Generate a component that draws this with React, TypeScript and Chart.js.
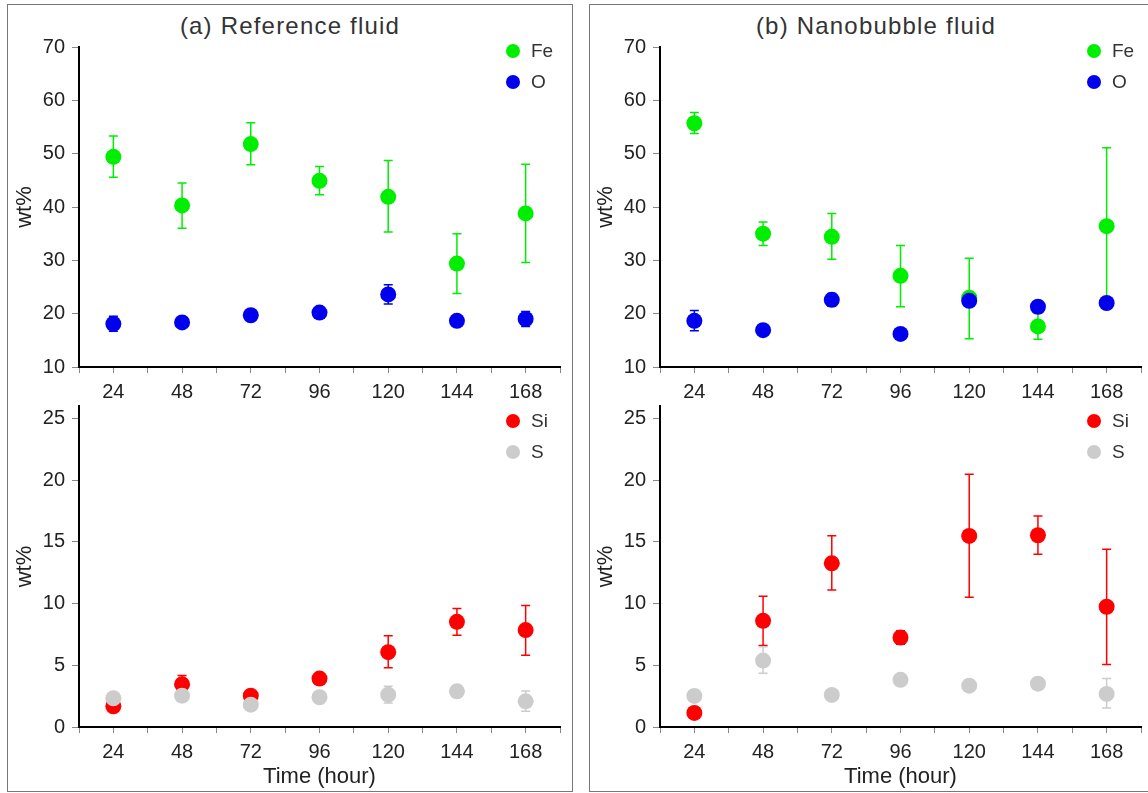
import React, { useEffect, useRef } from 'react';
import { Chart, registerables } from 'chart.js';

Chart.register(...registerables);

// ---------- data ----------
const hours = [24, 48, 72, 96, 120, 144, 168];
const xTickValues = [12, 24, 36, 48, 60, 72, 84, 96, 108, 120, 132, 144, 156, 168, 180];
const xLabelValues = [24, 48, 72, 96, 120, 144, 168];
const topYTicks = [10, 20, 30, 40, 50, 60, 70];
const bottomYTicks = [0, 5, 10, 15, 20, 25];

// (a) Reference fluid
const refFe = [49.4, 40.3, 51.8, 44.9, 41.9, 29.4, 38.8];
const refFeHi = [53.3, 44.5, 55.8, 47.6, 48.7, 35.0, 48.0];
const refFeLo = [45.6, 36.0, 47.9, 42.3, 35.3, 23.8, 29.6];
const refO = [18.1, 18.35, 19.7, 20.2, 23.6, 18.65, 19.0];
const refOHi = [19.5, 18.9, 20.2, 20.6, 25.4, 19.0, 20.4];
const refOLo = [16.7, 17.8, 19.2, 19.8, 21.8, 18.3, 17.6];
const refSi = [1.68, 3.46, 2.54, 3.92, 6.06, 8.52, 7.85];
const refSiHi = [2.0, 4.17, 2.9, 4.2, 7.39, 9.6, 9.85];
const refSiLo = [1.36, 2.8, 2.2, 3.6, 4.79, 7.44, 5.82];
const refS = [2.33, 2.54, 1.81, 2.41, 2.62, 2.89, 2.08];
const refSHi = [2.6, 2.8, 2.1, 2.7, 3.3, 3.2, 2.92];
const refSLo = [2.05, 2.3, 1.55, 2.15, 1.95, 2.6, 1.27];

// (b) Nanobubble fluid
const nanoFe = [55.7, 35.0, 34.4, 27.1, 23.0, 17.6, 36.4];
const nanoFeHi = [57.7, 37.2, 38.8, 32.8, 30.4, 20.1, 51.1];
const nanoFeLo = [53.8, 32.8, 30.2, 21.3, 15.3, 15.2, 21.8];
const nanoO = [18.65, 16.9, 22.6, 16.2, 22.4, 21.3, 22.0];
const nanoOHi = [20.6, 17.3, 23.8, 16.6, 22.9, 21.7, 22.4];
const nanoOLo = [16.8, 16.5, 21.4, 15.8, 21.9, 20.9, 21.6];
const nanoSi = [1.14, 8.6, 13.26, 7.25, 15.48, 15.53, 9.74];
const nanoSiHi = [1.4, 10.6, 15.5, 7.8, 20.48, 17.1, 14.4];
const nanoSiLo = [0.9, 6.6, 11.1, 6.7, 10.5, 14.0, 5.07];
const nanoS = [2.52, 5.38, 2.6, 3.82, 3.35, 3.51, 2.68];
const nanoSHi = [3.0, 6.5, 2.9, 4.1, 3.6, 3.8, 3.92];
const nanoSLo = [2.1, 4.36, 2.3, 3.5, 3.1, 3.2, 1.54];

const titles = ['(a) Reference fluid', '(b) Nanobubble fluid'];

// ---------- styles ----------
const FONT = '"Liberation Sans", Arial, Helvetica, sans-serif';
const GREEN = '#00ee00';
const BLUE = '#0000ee';
const RED = '#ff0000';
const GRAY = '#cccccc';
const TEXT = '#222222';

type Series = { label: string; color: string; mean: number[]; lo: number[]; hi: number[] };

type PanelSpec = {
  left: number;
  top: number;
  width: number;
  height: number;
  padTop: number;
  padRight: number;
  yWidth: number;
  xHeight: number;
  yMin: number;
  yMax: number;
  yTicks: number[];
  showXTitle: boolean;
  legendDx: number;
  legendDy: number;
  series: Series[];
};

const errorBarPlugin = {
  id: 'errorBars',
  beforeDatasetDraw(chart: any, args: any) {
    const ds = chart.data.datasets[args.index];
    if (!ds.errLo) return;
    const xs = chart.scales.x;
    const ys = chart.scales.y;
    const ctx = chart.ctx;
    ctx.save();
    ctx.strokeStyle = ds.errColor;
    ctx.lineWidth = 1.5;
    const cap = 4.5;
    for (let i = 0; i < ds.data.length; i++) {
      const x = xs.getPixelForValue(ds.data[i].x);
      const yl = ys.getPixelForValue(ds.errLo[i]);
      const yh = ys.getPixelForValue(ds.errHi[i]);
      ctx.beginPath();
      ctx.moveTo(x, yl);
      ctx.lineTo(x, yh);
      ctx.moveTo(x - cap, yl);
      ctx.lineTo(x + cap, yl);
      ctx.moveTo(x - cap, yh);
      ctx.lineTo(x + cap, yh);
      ctx.stroke();
    }
    ctx.restore();
  },
};

function makeLegendPlugin(spec: PanelSpec) {
  return {
    id: 'cornerLegend',
    afterDraw(chart: any) {
      const ctx = chart.ctx;
      const area = chart.chartArea;
      ctx.save();
      ctx.font = `19px ${FONT}`;
      ctx.textBaseline = 'middle';
      ctx.textAlign = 'left';
      spec.series.forEach((s, i) => {
        const cx = area.right - spec.legendDx;
        const cy = area.top + spec.legendDy + i * 31;
        ctx.fillStyle = s.color;
        ctx.beginPath();
        ctx.arc(cx, cy, 7, 0, Math.PI * 2);
        ctx.fill();
        ctx.fillStyle = '#333';
        ctx.fillText(s.label, cx + 18, cy + 1);
      });
      ctx.restore();
    },
  };
}

function Panel({ spec }: { spec: PanelSpec }) {
  const ref = useRef<HTMLCanvasElement | null>(null);
  useEffect(() => {
    if (!ref.current) return;
    const datasets = spec.series.map((s, i) => ({
      label: s.label,
      data: hours.map((h, k) => ({ x: h, y: s.mean[k] })),
      errLo: s.lo,
      errHi: s.hi,
      errColor: s.color,
      backgroundColor: s.color,
      borderColor: s.color,
      pointBackgroundColor: s.color,
      pointBorderColor: s.color,
      pointBorderWidth: 0,
      pointRadius: 8,
      pointHoverRadius: 8,
      showLine: false,
      order: spec.series.length - 1 - i,
    }));
    const chart = new Chart(ref.current, {
      type: 'scatter',
      data: { datasets } as any,
      plugins: [errorBarPlugin, makeLegendPlugin(spec)],
      options: {
        responsive: false,
        animation: false,
        events: [],
        layout: { padding: { top: spec.padTop, right: spec.padRight, bottom: 0, left: 0 } },
        plugins: { legend: { display: false }, tooltip: { enabled: false } },
        scales: {
          x: {
            type: 'linear',
            min: 12,
            max: 180,
            afterBuildTicks: (axis: any) => {
              axis.ticks = xTickValues.map((v) => ({ value: v }));
            },
            afterFit: (axis: any) => {
              axis.height = spec.xHeight;
            },
            ticks: {
              autoSkip: false,
              maxRotation: 0,
              padding: 7,
              color: TEXT,
              font: { family: FONT, size: 20 },
              callback: (v: any) => (xLabelValues.includes(Number(v)) ? String(v) : ''),
            },
            grid: { drawOnChartArea: false, drawTicks: true, tickLength: 6, color: '#888', lineWidth: 1 },
            border: { display: true, color: '#000', width: 2 },
            title: {
              display: spec.showXTitle,
              text: 'Time (hour)',
              color: TEXT,
              font: { family: FONT, size: 22 },
              padding: { top: 0, bottom: 3 },
            },
          },
          y: {
            type: 'linear',
            min: spec.yMin,
            max: spec.yMax,
            afterBuildTicks: (axis: any) => {
              axis.ticks = spec.yTicks.map((v) => ({ value: v }));
            },
            afterFit: (axis: any) => {
              axis.width = spec.yWidth;
            },
            ticks: {
              padding: 7,
              color: TEXT,
              font: { family: FONT, size: 20 },
              callback: (v: any) => String(v),
            },
            grid: { drawOnChartArea: false, drawTicks: true, tickLength: 7, color: '#888', lineWidth: 1 },
            border: { display: true, color: '#000', width: 2 },
            title: {
              display: true,
              text: 'wt%',
              color: TEXT,
              font: { family: FONT, size: 22 },
              padding: { top: 4, bottom: 0 },
            },
          },
        },
      } as any,
    });
    return () => chart.destroy();
  }, [spec]);
  return (
    <canvas
      ref={ref}
      width={spec.width}
      height={spec.height}
      style={{ position: 'absolute', left: spec.left, top: spec.top, width: spec.width, height: spec.height }}
    />
  );
}

const COL_SHIFT = 581;

function buildPanels(): PanelSpec[] {
  const topBase = {
    top: 22,
    width: 564,
    height: 385,
    padTop: 25,
    padRight: 12,
    yWidth: 71,
    xHeight: 40,
    yMin: 10,
    yMax: 70,
    yTicks: topYTicks,
    showXTitle: false,
    legendDx: 47,
    legendDy: 4,
  };
  const botBase = {
    top: 382,
    width: 564,
    height: 411,
    padTop: 24,
    padRight: 12,
    yWidth: 71,
    xHeight: 66,
    yMin: 0,
    yMax: 26,
    yTicks: bottomYTicks,
    showXTitle: true,
    legendDx: 47,
    legendDy: 15,
  };
  return [
    {
      ...topBase,
      left: 8,
      series: [
        { label: 'Fe', color: GREEN, mean: refFe, lo: refFeLo, hi: refFeHi },
        { label: 'O', color: BLUE, mean: refO, lo: refOLo, hi: refOHi },
      ],
    },
    {
      ...botBase,
      left: 8,
      series: [
        { label: 'Si', color: RED, mean: refSi, lo: refSiLo, hi: refSiHi },
        { label: 'S', color: GRAY, mean: refS, lo: refSLo, hi: refSHi },
      ],
    },
    {
      ...topBase,
      left: 8 + COL_SHIFT,
      series: [
        { label: 'Fe', color: GREEN, mean: nanoFe, lo: nanoFeLo, hi: nanoFeHi },
        { label: 'O', color: BLUE, mean: nanoO, lo: nanoOLo, hi: nanoOHi },
      ],
    },
    {
      ...botBase,
      left: 8 + COL_SHIFT,
      series: [
        { label: 'Si', color: RED, mean: nanoSi, lo: nanoSiLo, hi: nanoSiHi },
        { label: 'S', color: GRAY, mean: nanoS, lo: nanoSLo, hi: nanoSHi },
      ],
    },
  ];
}

const panels = buildPanels();

export default function App() {
  const frameStyle = (left: number, width: number): React.CSSProperties => ({
    position: 'absolute',
    left,
    top: 4,
    width,
    height: 788,
    border: '1px solid #777',
    boxSizing: 'border-box',
  });
  const titleStyle = (left: number, width: number): React.CSSProperties => ({
    position: 'absolute',
    left,
    top: 14,
    width,
    textAlign: 'center',
    fontFamily: FONT,
    fontSize: 24,
    lineHeight: '24px',
    letterSpacing: '1.2px',
    color: '#333',
    whiteSpace: 'nowrap',
  });
  return (
    <div
      style={{
        position: 'absolute',
        left: 0,
        top: 0,
        width: 1148,
        height: 793,
        overflow: 'hidden',
        background: '#fff',
      }}
    >
      <div style={frameStyle(7, 566)} />
      <div style={frameStyle(589, 574)} />
      <div style={titleStyle(7, 566)}>{titles[0]}</div>
      <div style={titleStyle(589, 574)}>{titles[1]}</div>
      {panels.map((p, i) => (
        <Panel key={i} spec={p} />
      ))}
    </div>
  );
}
